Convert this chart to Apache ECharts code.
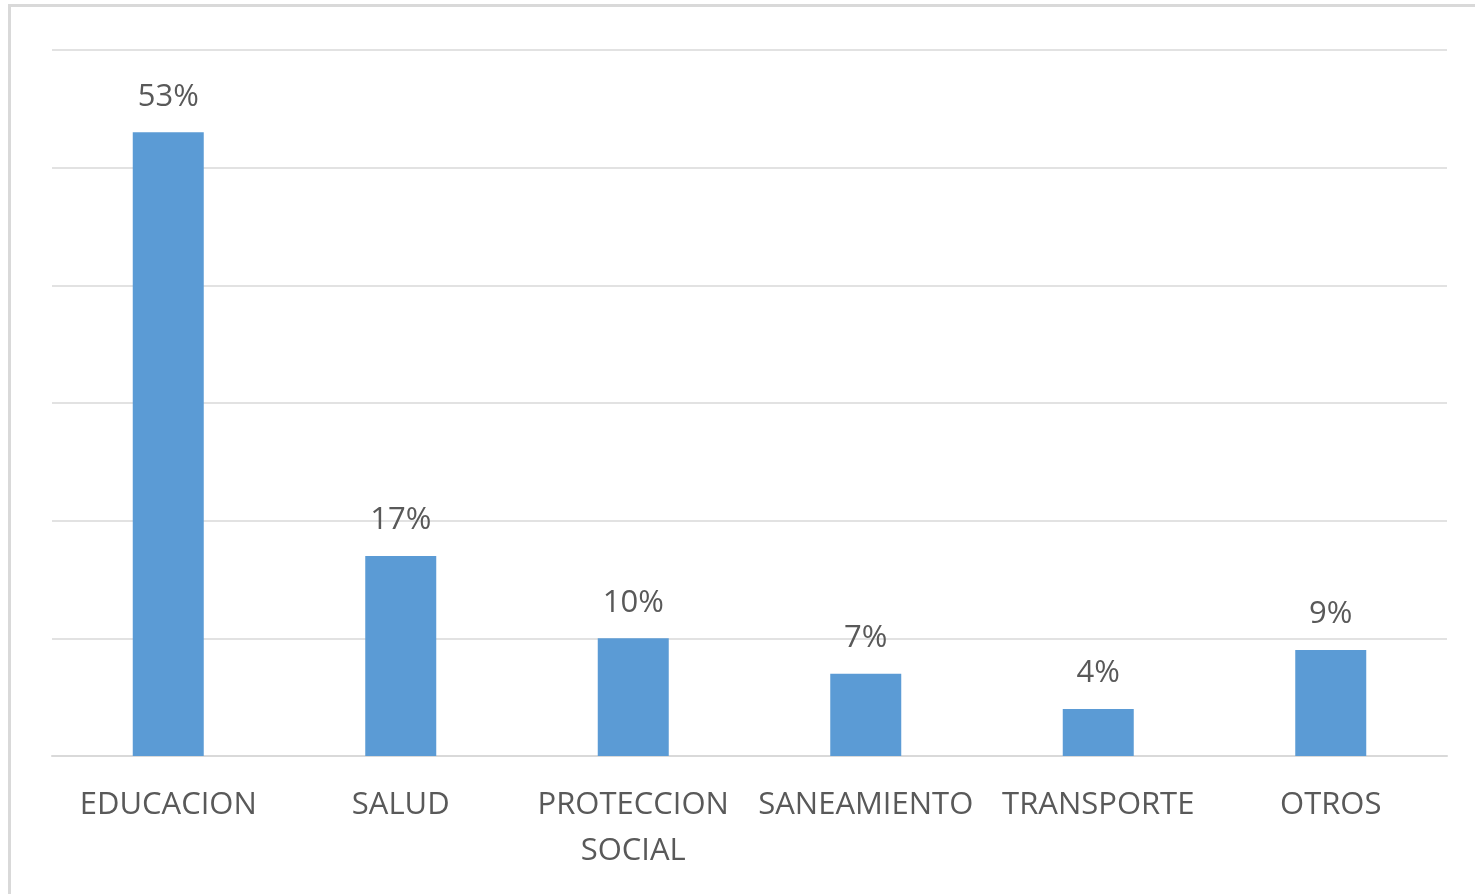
<!DOCTYPE html>
<html><head><meta charset="utf-8">
<script src="https://cdn.jsdelivr.net/npm/echarts@6/dist/echarts.min.js"></script>
<style>html,body{margin:0;padding:0;background:#fff}
#frame{position:absolute;left:8px;top:4px;width:1480px;height:900px;border:3px solid #d9d9d9;box-sizing:border-box}
#c{position:absolute;left:0;top:0;width:1475px;height:894px}</style>
</head><body><div id="frame"></div><div id="c"></div>
<script>
const categories = ['EDUCACION', 'SALUD', 'PROTECCION SOCIAL', 'SANEAMIENTO', 'TRANSPORTE', 'OTROS'];
const values = [53, 17, 10, 7, 4, 9];
const chart = echarts.init(document.getElementById('c'));
chart.setOption({
  animation: false,
  grid: {left: 52, right: 28, top: 50, bottom: 138},
  xAxis: {
    type: 'category', data: categories,
    axisLine: {lineStyle: {color: '#d9d9d9', width: 2}},
    axisTick: {show: false},
    axisLabel: {color: '#595959', fontSize: 31, fontFamily: 'Open Sans', margin: 26, lineHeight: 46,
      interval: 0, formatter: v => v.replace(' ', '\n')}
  },
  yAxis: {
    type: 'value', min: 0, max: 60, interval: 10,
    axisLabel: {show: false}, axisLine: {show: false}, axisTick: {show: false},
    splitLine: {lineStyle: {color: '#d9d9d9', width: 1.5}}
  },
  series: [{
    type: 'bar', data: values, barWidth: 71,
    itemStyle: {color: '#5b9bd5'},
    label: {show: true, position: 'top', distance: 20, formatter: '{c}%', color: '#595959', fontSize: 31, fontFamily: 'Open Sans'}
  }]
});
</script></body></html>
